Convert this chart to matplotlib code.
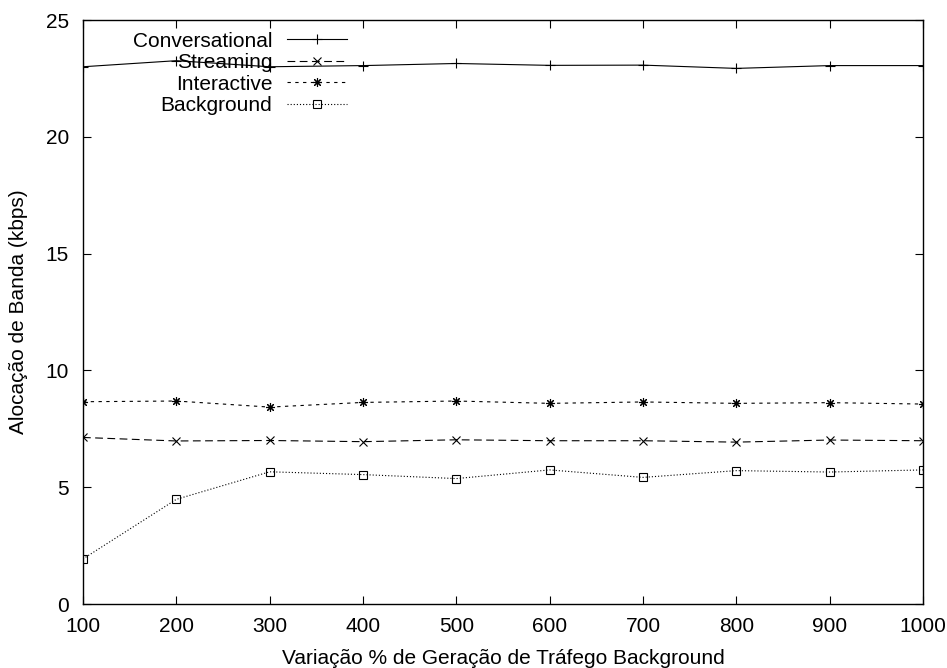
import matplotlib
matplotlib.use("Agg")
import matplotlib.pyplot as plt

x = [100, 200, 300, 400, 500, 600, 700, 800, 900, 1000]
conversational = [23.0, 23.26, 23.0, 23.05, 23.14, 23.06, 23.07, 22.93, 23.05, 23.05]
streaming = [7.13, 6.98, 7.0, 6.95, 7.03, 6.99, 6.99, 6.93, 7.02, 6.99]
interactive = [8.66, 8.69, 8.43, 8.63, 8.69, 8.59, 8.65, 8.59, 8.62, 8.56]
background = [1.93, 4.48, 5.66, 5.54, 5.37, 5.74, 5.42, 5.71, 5.65, 5.74]

xticks = [100, 200, 300, 400, 500, 600, 700, 800, 900, 1000]
yticks = [0, 5, 10, 15, 20, 25]

plt.rcParams['font.family'] = ['Liberation Sans', 'DejaVu Sans']
plt.rcParams['font.size'] = 15

fig = plt.figure(figsize=(9.47, 6.68), dpi=100)
ax = fig.add_axes([0.0876, 0.0958, 0.887, 0.8742])

lw = 0.8
ax.plot(x, conversational, color='black', lw=lw, linestyle='-', marker='+',
        markersize=7, markeredgewidth=0.8, label='Conversational')
ax.plot(x, streaming, color='black', lw=lw, linestyle=(0, (7, 4)), marker='x',
        markersize=6.2, markeredgewidth=0.8, label='Streaming')
ax.plot(x, interactive, color='black', lw=lw, linestyle=(0, (3, 4)), marker=(8, 2, 0),
        markersize=6.5, markeredgewidth=0.8, label='Interactive')
ax.plot(x, background, color='black', lw=lw, linestyle=(0, (1, 1.8)), marker='s',
        markersize=6, markeredgewidth=0.8, markerfacecolor='none', label='Background')

ax.set_xlim(100, 1000)
ax.set_ylim(0, 25)
ax.set_xticks(xticks)
ax.set_yticks(yticks)
ax.tick_params(direction='in', length=6, width=0.8, top=True, right=True)
ax.tick_params(axis='x', pad=9)
ax.tick_params(axis='y', pad=10)
for s in ax.spines.values():
    s.set_linewidth(1.0)

ax.set_xlabel('Variação % de Geração de Tráfego Background', labelpad=10)
ax.set_ylabel('Alocação de Banda (kbps)', labelpad=13)

leg = ax.legend(loc='upper right', bbox_to_anchor=(0.314, 0.98), markerfirst=False, frameon=False,
                handlelength=2.85, labelspacing=0.12, handletextpad=0.72, borderpad=0.0,
                borderaxespad=0.0)

fig.savefig('out.png', dpi=100)
